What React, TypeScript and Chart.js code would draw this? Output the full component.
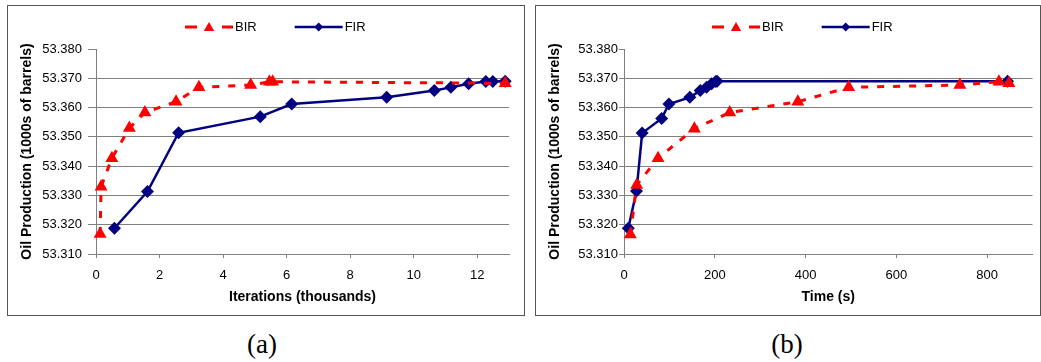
import React, { useEffect, useRef } from 'react';
import { Chart, registerables } from 'chart.js';

Chart.register(...registerables);

// ---- Data ----
const yTickValues = [53.31, 53.32, 53.33, 53.34, 53.35, 53.36, 53.37, 53.38];
const iterTickValues = [0, 2, 4, 6, 8, 10, 12];
const timeTickValues = [0, 200, 400, 600, 800];

const birIterX = [0.13, 0.16, 0.5, 1.05, 1.54, 2.52, 3.24, 4.87, 5.46, 5.56, 12.88];
const birIterY = [53.3168, 53.333, 53.3427, 53.353, 53.3583, 53.362, 53.3669, 53.3677, 53.3688, 53.3688, 53.3683];

const firIterX = [0.58, 1.62, 2.6, 5.17, 6.16, 9.15, 10.65, 11.17, 11.73, 12.27, 12.49, 12.88];
const firIterY = [53.3188, 53.3313, 53.3514, 53.3569, 53.3612, 53.3635, 53.3658, 53.3669, 53.3681, 53.3689, 53.3689, 53.369];

const birTimeX = [14, 28, 75, 155, 233, 383, 495, 740, 826, 848];
const birTimeY = [53.3167, 53.3336, 53.3427, 53.3528, 53.3583, 53.362, 53.3669, 53.3677, 53.3688, 53.3683];

const firTimeX = [9.5, 27.5, 40, 83, 99, 145, 168, 182, 193, 202, 205, 845];
const firTimeY = [53.3188, 53.3315, 53.3513, 53.3563, 53.3612, 53.3635, 53.3658, 53.3669, 53.3681, 53.3689, 53.369, 53.369];

const seriesLabels = ['BIR', 'FIR'];

const FONT = '"Liberation Sans", Arial, Helvetica, sans-serif';
const RED = '#ff0000';
const NAVY = '#000080';
const GRID = '#808080';

function drawMarker(ctx: CanvasRenderingContext2D, style: string, x: number, y: number, r: number, color: string) {
  ctx.beginPath();
  if (style === 'triangle') {
    ctx.moveTo(x, y - r);
    ctx.lineTo(x + 0.866 * r, y + 0.5 * r);
    ctx.lineTo(x - 0.866 * r, y + 0.5 * r);
  } else {
    ctx.moveTo(x, y - r);
    ctx.lineTo(x + r, y);
    ctx.lineTo(x, y + r);
    ctx.lineTo(x - r, y);
  }
  ctx.closePath();
  ctx.fillStyle = color;
  ctx.fill();
}

const lineLegend = {
  id: 'lineLegend',
  afterDraw(chart: any, _args: any, opts: any) {
    const ctx: CanvasRenderingContext2D = chart.ctx;
    let x = opts.x;
    const y = opts.y;
    const lineLen = 48;
    ctx.save();
    ctx.font = '13px ' + FONT;
    ctx.textBaseline = 'middle';
    ctx.textAlign = 'left';
    chart.data.datasets.forEach((ds: any) => {
      ctx.strokeStyle = ds.borderColor;
      ctx.lineWidth = ds.borderWidth;
      ctx.setLineDash(ds.borderDash && ds.borderDash.length ? [12, 25] : []);
      ctx.beginPath();
      ctx.moveTo(x, y);
      ctx.lineTo(x + lineLen, y);
      ctx.stroke();
      ctx.setLineDash([]);
      drawMarker(ctx, ds.pointStyle, x + lineLen / 2, y + (ds.pointStyle === 'triangle' ? 1 : 0), ds.pointStyle === 'triangle' ? 6 : 4.5, ds.pointBackgroundColor);
      ctx.fillStyle = '#000';
      ctx.fillText(ds.label, x + lineLen + 2, y);
      x += lineLen + 2 + ctx.measureText(ds.label).width + 38;
    });
    ctx.restore();
  },
};

function makeConfig(
  birX: number[], birY: number[], firX: number[], firY: number[],
  xTicks: number[], xMax: number, xTitle: string,
  padRight: number, yTickLen: number, yTickPad: number, legendX: number, canvasH: number
): any {
  return {
    type: 'line',
    data: {
      datasets: [
        {
          label: seriesLabels[0],
          data: birX.map((x, i) => ({ x, y: birY[i] })),
          borderColor: RED,
          backgroundColor: RED,
          borderWidth: 3,
          borderDash: [7, 9],
          pointStyle: 'triangle',
          pointRadius: 7.5,
          pointBackgroundColor: RED,
          pointBorderColor: RED,
          pointBorderWidth: 0,
          tension: 0,
          clip: false,
        },
        {
          label: seriesLabels[1],
          data: firX.map((x, i) => ({ x, y: firY[i] })),
          borderColor: NAVY,
          backgroundColor: NAVY,
          borderWidth: 2.5,
          pointStyle: 'rectRot',
          pointRadius: 6.5,
          pointBackgroundColor: NAVY,
          pointBorderColor: NAVY,
          pointBorderWidth: 0,
          tension: 0,
          clip: false,
        },
      ],
    },
    options: {
      animation: false,
      responsive: false,
      maintainAspectRatio: false,
      layout: { padding: { top: 43, right: padRight, left: 0, bottom: 0 } },
      plugins: {
        legend: { display: false },
        tooltip: { enabled: false },
        lineLegend: { x: legendX, y: 21 },
      },
      scales: {
        x: {
          type: 'linear',
          min: 0,
          max: xMax,
          afterBuildTicks: (scale: any) => {
            scale.ticks = xTicks.map((v) => ({ value: v }));
          },
          afterFit: (scale: any) => {
            scale.height = canvasH - 248;
          },
          ticks: {
            color: '#000',
            font: { family: FONT, size: 13 },
            padding: 10,
            maxRotation: 0,
            autoSkip: false,
          },
          grid: {
            drawOnChartArea: false,
            drawTicks: true,
            tickLength: 4,
            tickColor: GRID,
            color: GRID,
          },
          border: { color: GRID, width: 1 },
          title: {
            display: true,
            text: xTitle,
            color: '#000',
            font: { family: FONT, size: 14, weight: 'bold' },
            padding: { top: 0, bottom: 9 },
          },
        },
        y: {
          type: 'linear',
          min: 53.31,
          max: 53.38,
          afterBuildTicks: (scale: any) => {
            scale.ticks = yTickValues.map((v) => ({ value: v }));
          },
          afterFit: (scale: any) => {
            scale.width = 88;
          },
          ticks: {
            color: '#000',
            font: { family: FONT, size: 13 },
            padding: yTickPad,
            autoSkip: false,
            callback: (v: any) => Number(v).toFixed(3),
          },
          grid: {
            drawOnChartArea: true,
            drawTicks: true,
            tickLength: yTickLen,
            tickColor: GRID,
            color: (c: any) => (c.tick && c.tick.value > 53.3795 ? 'rgba(0,0,0,0)' : GRID),
            lineWidth: 1,
          },
          border: { color: GRID, width: 1 },
          title: {
            display: true,
            text: 'Oil Production (1000s of barrels)',
            color: '#000',
            font: { family: FONT, size: 14, weight: 'bold' },
            padding: { top: 11, bottom: 0 },
          },
        },
      },
    },
    plugins: [lineLegend],
  };
}

function ChartBox(props: { left: number; width: number; config: any }) {
  const ref = useRef<HTMLCanvasElement | null>(null);
  const canvasW = props.width - 2;
  const canvasH = 309;
  useEffect(() => {
    if (!ref.current) return;
    const chart = new Chart(ref.current, props.config);
    return () => chart.destroy();
  }, []);
  return (
    <div
      style={{
        position: 'absolute',
        left: props.left,
        top: 5,
        width: props.width,
        height: 311,
        boxSizing: 'border-box',
        border: '1px solid #555',
        background: '#fff',
      }}
    >
      <canvas ref={ref} width={canvasW} height={canvasH} style={{ display: 'block', width: canvasW, height: canvasH }} />
    </div>
  );
}

export default function App() {
  const leftCfg = makeConfig(birIterX, birIterY, firIterX, firIterY, iterTickValues, 13, 'Iterations (thousands)', 15, 8, 6, 177, 309);
  const rightCfg = makeConfig(birTimeX, birTimeY, firTimeX, firTimeY, timeTickValues, 900, 'Time (s)', 7, 5, 1, 176, 309);
  const captionStyle: React.CSSProperties = {
    position: 'absolute',
    top: 329,
    width: 100,
    textAlign: 'center',
    fontFamily: '"Liberation Serif", "DejaVu Serif", serif',
    fontSize: 27,
    lineHeight: '30px',
    color: '#000',
  };
  return (
    <div style={{ position: 'absolute', left: 0, top: 0, width: 1041, height: 362, background: '#fff', overflow: 'hidden' }}>
      <ChartBox left={7} width={518} config={leftCfg} />
      <ChartBox left={535} width={506} config={rightCfg} />
      <div style={{ ...captionStyle, left: 212 }}>(a)</div>
      <div style={{ ...captionStyle, left: 737 }}>(b)</div>
    </div>
  );
}
